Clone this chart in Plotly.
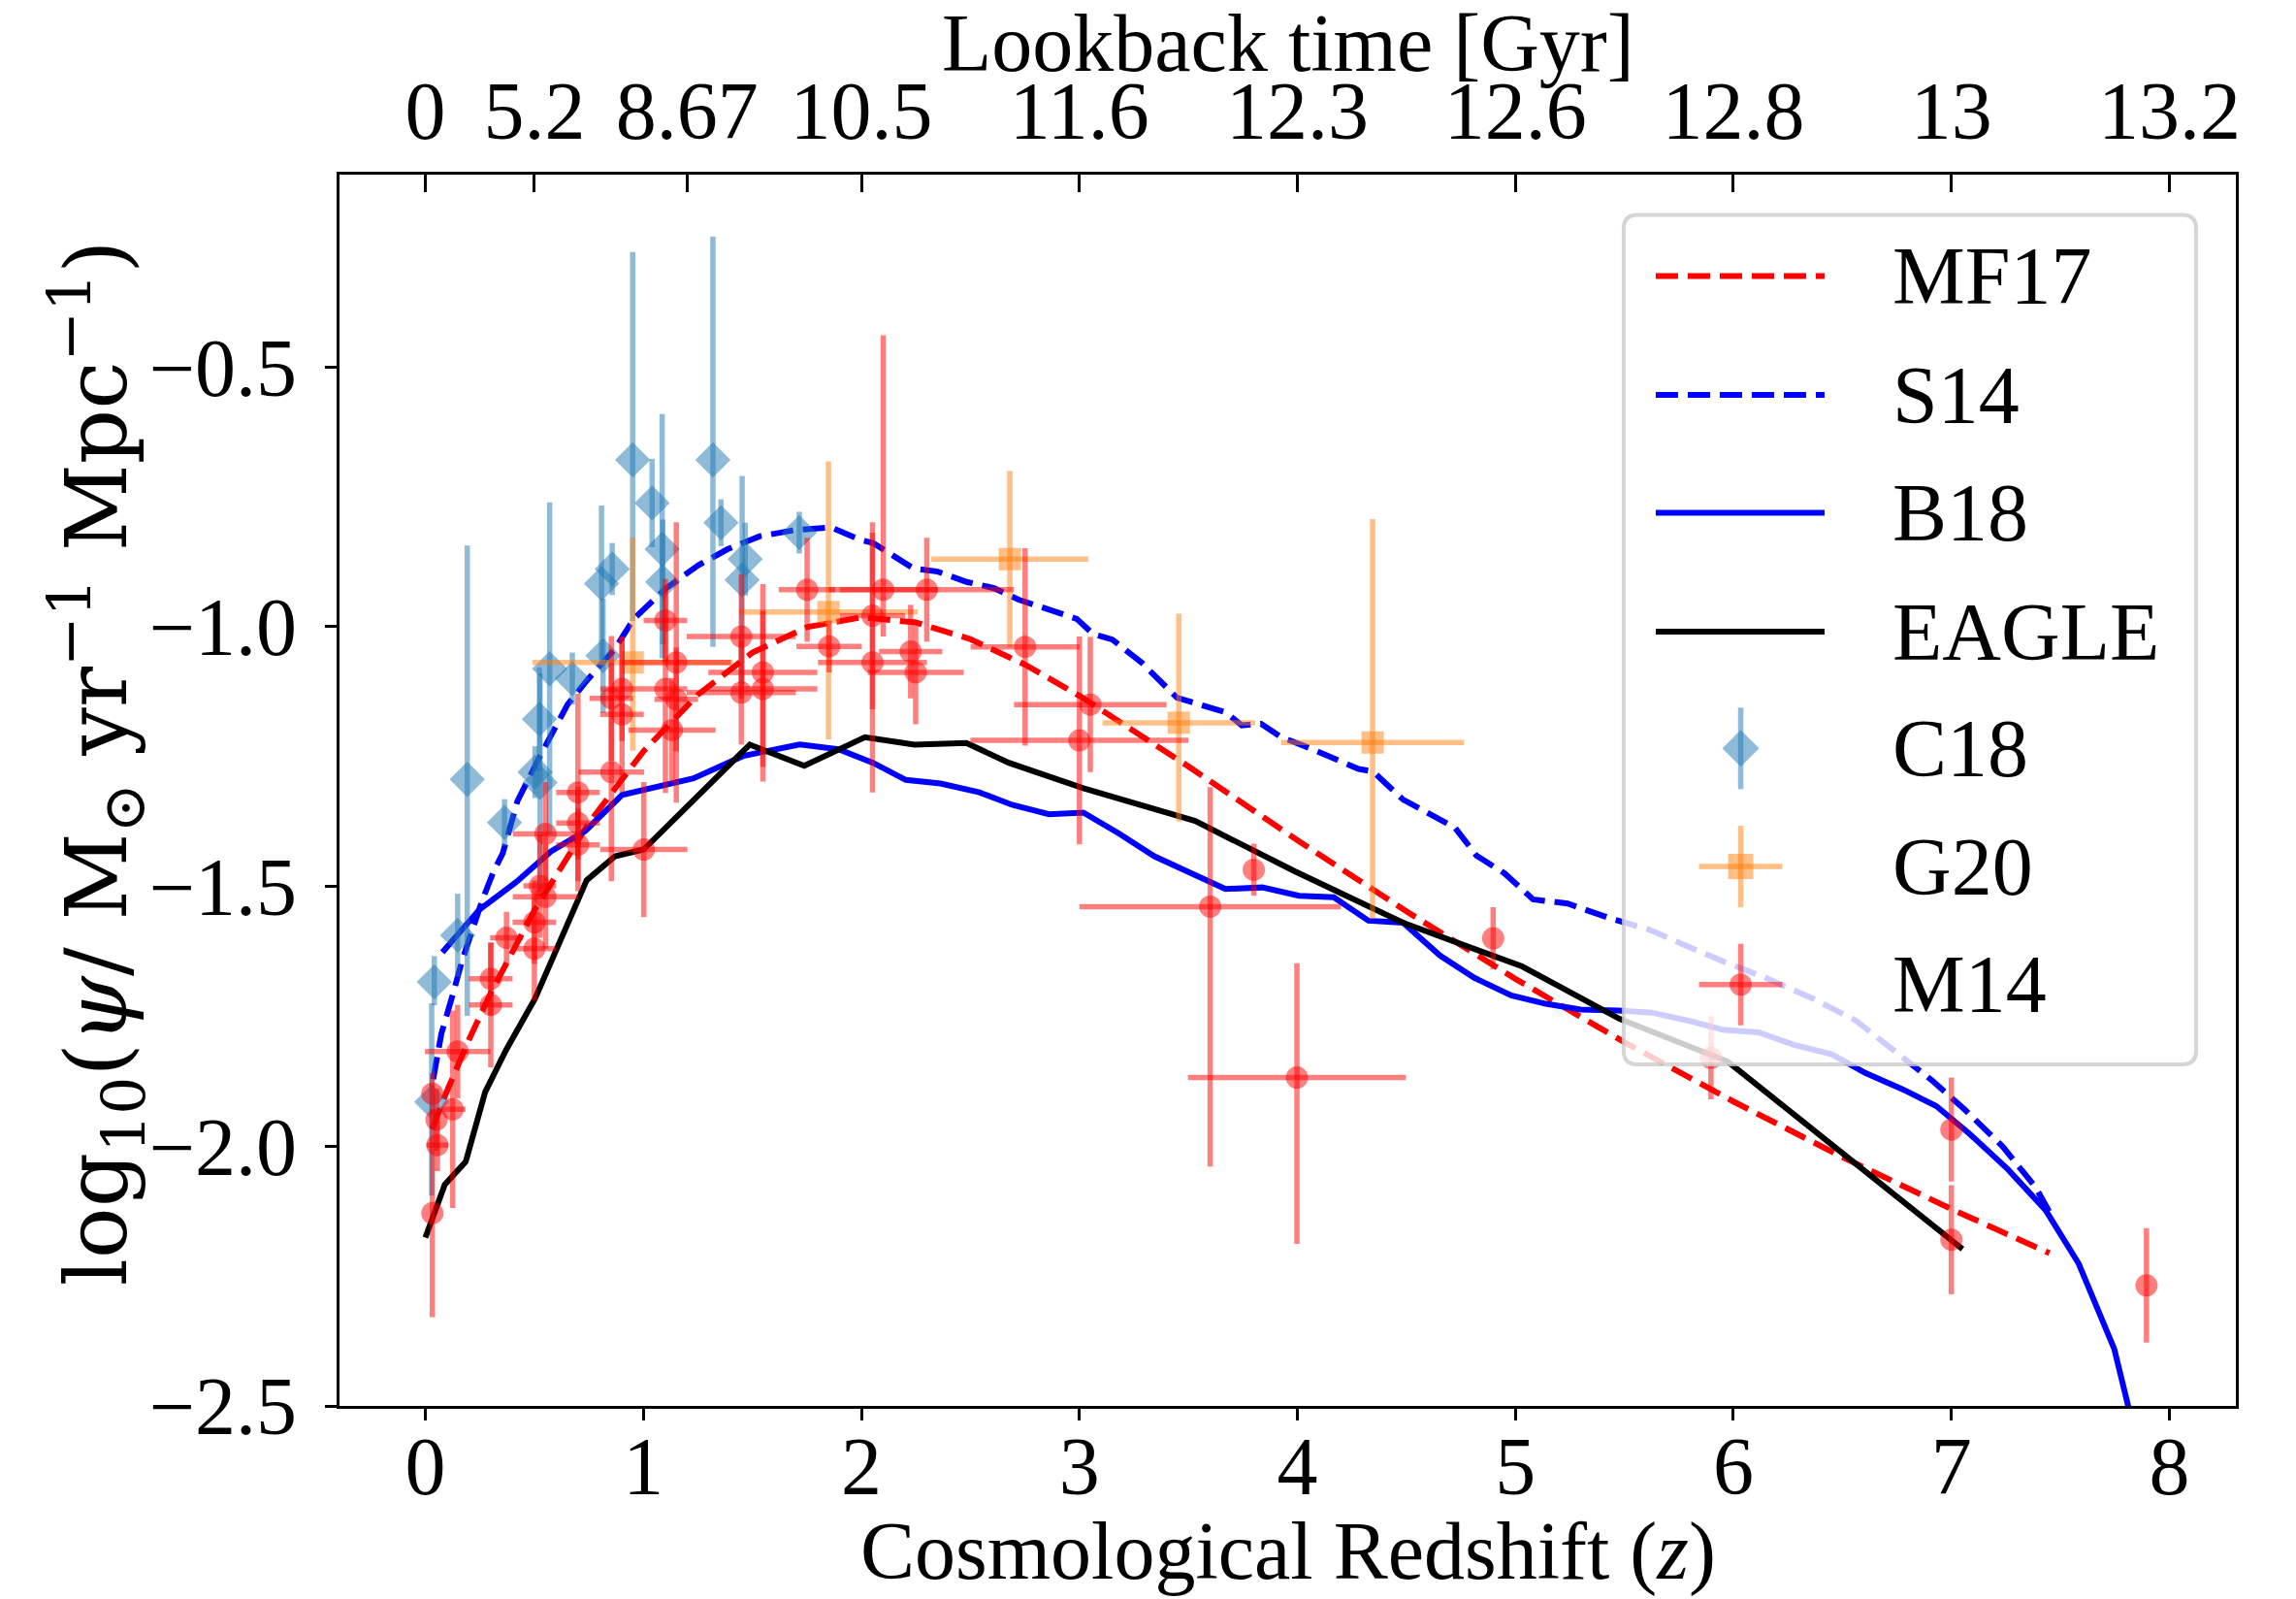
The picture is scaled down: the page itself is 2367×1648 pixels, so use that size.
import plotly.graph_objects as go

# ---------------- data ----------------
MF17_Z = [0.03, 0.1, 0.2, 0.3, 0.5, 0.75, 1.0, 1.25, 1.5, 1.75, 2.0, 2.25, 2.5, 2.75,
          3.0, 3.5, 4.0, 4.5, 5.0, 5.5, 6.0, 6.5, 7.0, 7.45]
MF17_Y = [-1.967, -1.893, -1.795, -1.705, -1.546, -1.378, -1.240, -1.131, -1.050, -1.001,
          -0.982, -0.992, -1.024, -1.073, -1.133, -1.269, -1.411, -1.548, -1.678, -1.800,
          -1.914, -2.021, -2.121, -2.206]

S14_Z = [0.036, 0.073, 0.125, 0.170, 0.259, 0.311, 0.355, 0.422, 0.526, 0.652, 0.748, 0.867,
         0.956, 1.104, 1.252, 1.386, 1.534, 1.697, 1.861, 1.994, 2.053, 2.142, 2.239, 2.350,
         2.483, 2.609, 2.721, 2.988, 3.062, 3.151, 3.285, 3.448, 3.537, 3.671, 3.745, 3.834,
         3.923, 4.057, 4.281, 4.347, 4.485, 4.723, 4.822, 4.951, 5.081, 5.240, 5.438, 5.613,
         5.755, 5.951, 6.148, 6.365, 6.561, 6.735, 6.910, 7.062, 7.236, 7.388, 7.454]
S14_Y = [-1.871, -1.784, -1.709, -1.641, -1.529, -1.473, -1.436, -1.336, -1.249, -1.150, -1.100,
         -1.044, -0.985, -0.926, -0.882, -0.851, -0.826, -0.814, -0.809, -0.833, -0.839, -0.864,
         -0.888, -0.894, -0.914, -0.926, -0.948, -0.985, -1.014, -1.025, -1.069, -1.137, -1.148,
         -1.165, -1.190, -1.187, -1.212, -1.234, -1.274, -1.279, -1.333, -1.387, -1.441, -1.475,
         -1.525, -1.533, -1.562, -1.583, -1.609, -1.644, -1.676, -1.716, -1.758, -1.816, -1.873,
         -1.930, -2.001, -2.080, -2.130]

B18_Z = [0.078, 0.247, 0.416, 0.575, 0.734, 0.902, 1.230, 1.458, 1.717, 1.895, 2.053, 2.204,
         2.363, 2.541, 2.691, 2.861, 3.018, 3.181, 3.344, 3.507, 3.670, 3.839, 4.008, 4.167,
         4.326, 4.485, 4.654, 4.812, 4.981, 5.140, 5.299, 5.473, 5.625, 5.800, 5.952, 6.115,
         6.278, 6.452, 6.605, 6.779, 6.931, 7.083, 7.258, 7.432, 7.584, 7.747, 7.813, 7.840]
B18_Y = [-1.627, -1.545, -1.492, -1.433, -1.393, -1.324, -1.292, -1.249, -1.227, -1.236, -1.262,
         -1.295, -1.302, -1.319, -1.343, -1.361, -1.358, -1.398, -1.442, -1.473, -1.505, -1.502,
         -1.518, -1.521, -1.566, -1.570, -1.633, -1.676, -1.710, -1.726, -1.737, -1.739, -1.743,
         -1.759, -1.776, -1.781, -1.805, -1.823, -1.859, -1.891, -1.923, -1.976, -2.044, -2.123,
         -2.226, -2.390, -2.498, -2.550]

EAGLE_Z = [0.0, 0.089, 0.185, 0.274, 0.370, 0.503, 0.740, 0.870, 1.001, 1.238, 1.488, 1.738,
           2.016, 2.243, 2.482, 2.676, 3.018, 3.531, 3.988, 4.485, 5.031, 5.478, 5.973, 7.051]
EAGLE_Y = [-2.176, -2.074, -2.030, -1.896, -1.815, -1.716, -1.488, -1.442, -1.429, -1.331,
           -1.227, -1.268, -1.213, -1.227, -1.224, -1.262, -1.311, -1.374, -1.471, -1.570,
           -1.654, -1.755, -1.837, -2.198]

C18_Z = [0.029, 0.041, 0.148, 0.192, 0.363, 0.503, 0.526, 0.523, 0.570, 0.674, 0.808, 0.815,
         0.857, 0.951, 1.040, 1.086, 1.089, 1.319, 1.356, 1.453, 1.467, 1.715]
C18_Y = [-1.915, -1.684, -1.594, -1.294, -1.377, -1.280, -1.300, -1.178, -1.081, -1.100, -0.917,
         -1.056, -0.889, -0.679, -0.762, -0.851, -0.914, -0.679, -0.800, -0.910, -0.870, -0.819]
C18_UP = [0.19, 0.05, 0.08, 0.45, 0.045, 0.05, 0.21, 0.10, 0.32, 0.05, 0.15, 0.11, 0.05, 0.40,
          0.085, 0.26, 0.12, 0.43, 0.045, 0.20, 0.07, 0.04]
C18_DN = [0.18, 0.045, 0.08, 0.455, 0.045, 0.05, 0.21, 0.10, 0.32, 0.05, 0.15, 0.11, 0.05, 0.31,
          0.085, 0.21, 0.12, 0.36, 0.045, 0.20, 0.07, 0.04]

G20_Z = [0.951, 1.849, 2.681, 3.456, 4.345]
G20_Y = [-1.069, -0.972, -0.870, -1.185, -1.223]
G20_XERR = [0.46, 0.41, 0.36, 0.35, 0.42]
G20_UP = [0.24, 0.29, 0.17, 0.21, 0.43]
G20_DN = [0.17, 0.245, 0.17, 0.19, 0.34]

M14_Z = [0.032, 0.032, 0.051, 0.055, 0.125, 0.148, 0.300, 0.300, 0.372, 0.500, 0.500, 0.525,
         0.551, 0.551, 0.700, 0.700, 0.700, 0.853, 0.853, 0.902, 0.902, 1.002, 1.101, 1.101,
         1.151, 1.151, 1.131, 1.449, 1.449, 1.548, 1.548, 1.751, 1.852, 2.051, 2.051, 2.100,
         2.226, 2.249, 2.300, 2.751, 3.000, 3.050, 3.600, 3.800, 3.998, 4.898, 5.897, 7.000,
         7.000, 7.895]
M14_Y = [-2.129, -1.899, -1.949, -1.998, -1.929, -1.818, -1.678, -1.728, -1.599, -1.569, -1.620,
         -1.499, -1.520, -1.399, -1.420, -1.378, -1.319, -1.280, -1.138, -1.120, -1.169, -1.429,
         -0.988, -1.120, -1.069, -1.140, -1.199, -1.019, -1.127, -1.088, -1.120, -0.929, -1.038,
         -0.979, -1.069, -0.929, -1.048, -1.088, -0.929, -1.039, -1.219, -1.150, -1.539, -1.468,
         -1.868, -1.600, -1.830, -1.968, -2.180, -2.268]
M14_XERR = [0, 0, 0, 0.05, 0.06, 0.15, 0.10, 0.10, 0.075, 0.10, 0.10, 0.075, 0.15, 0.15, 0.10,
            0.10, 0.10, 0.15, 0.10, 0.10, 0.10, 0.20, 0.10, 0.10, 0.25, 0.10, 0.20, 0.25, 0.25,
            0.25, 0.25, 0.13, 0.15, 0.15, 0.25, 0.25, 0.145, 0.22, 0.40, 0.25, 0.50, 0.35, 0.60,
            0, 0.50, 0, 0, 0, 0, 0]
M14_UP = [0.20, 0.04, 0.06, 0.05, 0.19, 0.09, 0.07, 0.12, 0.05, 0.08, 0.10, 0.10, 0.10, 0.10,
          0.07, 0.07, 0.19, 0.21, 0.12, 0.10, 0.15, 0.13, 0.08, 0.20, 0.27, 0.10, 0.10, 0.12,
          0.10, 0.17, 0.15, 0.10, 0.05, 0.18, 0.25, 0.49, 0.09, 0.10, 0.10, 0.19, 0.20, 0.13,
          0.23, 0.05, 0.22, 0.06, 0.08, 0.10, 0.105, 0.11]
M14_DN = [0.20, 0.04, 0.06, 0.05, 0.19, 0.09, 0.07, 0.12, 0.05, 0.08, 0.10, 0.10, 0.10, 0.10,
          0.07, 0.07, 0.19, 0.21, 0.12, 0.10, 0.15, 0.13, 0.08, 0.20, 0.27, 0.10, 0.10, 0.12,
          0.10, 0.21, 0.15, 0.10, 0.05, 0.18, 0.25, 0.09, 0.09, 0.10, 0.10, 0.19, 0.20, 0.13,
          0.50, 0.05, 0.32, 0.06, 0.08, 0.10, 0.105, 0.11]

X_TICKS = [0, 1, 2, 3, 4, 5, 6, 7, 8]
Y_TICKS = [-2.5, -2.0, -1.5, -1.0, -0.5]
Y_TICK_LABELS = ["\u22122.5", "\u22122.0", "\u22121.5", "\u22121.0", "\u22120.5"]
TOP_Z = [0, 0.5, 1.2, 2, 3, 4, 5, 6, 7, 8]
TOP_LABELS = ["0", "5.2", "8.67", "10.5", "11.6", "12.3", "12.6", "12.8", "13", "13.2"]

LEGEND_NAMES = ["MF17", "S14", "B18", "EAGLE", "C18", "G20", "M14"]

# ---------------- styling ----------------
FONT = "Liberation Serif, Times New Roman, serif"
MATHFONT = "DejaVu Serif, serif"
FS = 84
LW = 6
DASH = "23px,10px"
EW = 5.5
C_BLUE = "rgba(31,119,180,0.5)"
C_ORANGE = "rgba(255,127,14,0.5)"
C_RED = "rgba(255,0,0,0.5)"

fig = go.Figure()

fig.add_trace(go.Scatter(x=MF17_Z, y=MF17_Y, mode="lines", name="MF17",
                         line=dict(color="red", width=LW, dash=DASH)))
fig.add_trace(go.Scatter(x=S14_Z, y=S14_Y, mode="lines", name="S14",
                         line=dict(color="blue", width=LW, dash=DASH)))
fig.add_trace(go.Scatter(x=B18_Z, y=B18_Y, mode="lines", name="B18",
                         line=dict(color="blue", width=LW)))
fig.add_trace(go.Scatter(x=EAGLE_Z, y=EAGLE_Y, mode="lines", name="EAGLE",
                         line=dict(color="black", width=LW)))

fig.add_trace(go.Scatter(
    x=C18_Z, y=C18_Y, mode="markers", name="C18",
    marker=dict(symbol="diamond", size=28, color=C_BLUE, line=dict(width=0)),
    error_y=dict(type="data", symmetric=False, array=C18_UP, arrayminus=C18_DN,
                 color=C_BLUE, thickness=EW, width=0)))
fig.add_trace(go.Scatter(
    x=G20_Z, y=G20_Y, mode="markers", name="G20",
    marker=dict(symbol="square", size=23, color=C_ORANGE, line=dict(width=0)),
    error_x=dict(type="data", array=G20_XERR, color=C_ORANGE, thickness=EW, width=0),
    error_y=dict(type="data", symmetric=False, array=G20_UP, arrayminus=G20_DN,
                 color=C_ORANGE, thickness=EW, width=0)))
fig.add_trace(go.Scatter(
    x=M14_Z, y=M14_Y, mode="markers", name="M14",
    marker=dict(symbol="circle", size=23, color=C_RED, line=dict(width=0)),
    error_x=dict(type="data", array=M14_XERR, color=C_RED, thickness=EW, width=0),
    error_y=dict(type="data", symmetric=False, array=M14_UP, arrayminus=M14_DN,
                 color=C_RED, thickness=EW, width=0)))

# invisible trace that carries the top (lookback time) axis
fig.add_trace(go.Scatter(x=TOP_Z, y=[None] * len(TOP_Z), xaxis="x2", yaxis="y",
                         mode="markers", showlegend=False, hoverinfo="skip"))

XR = [-0.394, 8.305]
YR = [-2.5, -0.13]

fig.update_layout(
    width=2367, height=1648,
    margin=dict(l=350, r=62, t=180, b=199, pad=0),
    paper_bgcolor="white", plot_bgcolor="white",
    showlegend=False,
    font=dict(family=FONT, size=FS, color="black"),
    xaxis=dict(range=XR, tickmode="array", tickvals=X_TICKS,
               ticks="outside", ticklen=12, tickwidth=3, tickcolor="black",
               showline=True, linecolor="black", linewidth=3.3, mirror=True,
               showgrid=False, zeroline=False, ticklabelstandoff=-25,
               tickfont=dict(family=FONT, size=FS)),
    xaxis2=dict(range=XR, overlaying="x", side="top", anchor="y",
                tickmode="array", tickvals=TOP_Z, ticktext=TOP_LABELS,
                ticks="inside", ticklen=18, tickwidth=3, tickcolor="black",
                showline=False, showgrid=False, zeroline=False,
                ticklabelstandoff=19, tickfont=dict(family=FONT, size=FS)),
    yaxis=dict(range=YR, tickmode="array", tickvals=Y_TICKS, ticktext=Y_TICK_LABELS,
               ticks="outside", ticklen=12, tickwidth=3, tickcolor="black",
               showline=True, linecolor="black", linewidth=3.3, mirror=True,
               showgrid=False, zeroline=False, ticklabelstandoff=12,
               tickfont=dict(family=FONT, size=FS)),
)

# axis titles
fig.add_annotation(text="Cosmological Redshift (<i>z</i>)", xref="paper", yref="paper",
                   x=0.5, y=-0.118, xanchor="center", yanchor="middle", showarrow=False,
                   font=dict(family=FONT, size=FS))
fig.add_annotation(text="Lookback time [Gyr]", xref="paper", yref="paper",
                   x=0.5, y=1.107, xanchor="center", yanchor="middle", showarrow=False,
                   font=dict(family=FONT, size=FS))
fig.add_annotation(text="log<sub>10</sub>(<i>\u03c8</i>/ M<sub>\u2299</sub> yr<sup>\u22121</sup> Mpc<sup>\u22121</sup>)",
                   xref="paper", yref="paper", x=-0.128, y=0.522, textangle=-90,
                   xanchor="center", yanchor="middle", showarrow=False,
                   font=dict(family=MATHFONT, size=88))

# ---------------- legend (drawn manually, matplotlib style) ----------------
LX0, LX1, LY0, LY1 = 0.6772, 0.9790, 0.2774, 0.9673
rx, ry = 14 / 1955, 14 / 1269
box_path = (f"M {LX0+rx},{LY0} L {LX1-rx},{LY0} Q {LX1},{LY0} {LX1},{LY0+ry} "
            f"L {LX1},{LY1-ry} Q {LX1},{LY1} {LX1-rx},{LY1} L {LX0+rx},{LY1} "
            f"Q {LX0},{LY1} {LX0},{LY1-ry} L {LX0},{LY0+ry} Q {LX0},{LY0} {LX0+rx},{LY0} Z")
shapes = [dict(type="path", path=box_path, xref="paper", yref="paper", layer="above",
               fillcolor="rgba(255,255,255,0.8)", line=dict(color="rgba(204,204,204,0.8)", width=4))]

ENTRY_Y = [0.9176, 0.8211, 0.7253, 0.6288, 0.5340, 0.4381, 0.3422]
SX0, SX1, SXC = 0.6941, 0.7831, 0.7389
line_styles = [("red", DASH), ("blue", DASH), ("blue", "solid"), ("black", "solid")]
for (col, dash), yy in zip(line_styles, ENTRY_Y[:4]):
    shapes.append(dict(type="line", xref="paper", yref="paper", layer="above",
                       x0=SX0, x1=SX1, y0=yy, y1=yy, line=dict(color=col, width=LW, dash=dash)))


def pix(kind, yy, **kw):
    d = dict(type=kind, xref="paper", yref="paper", layer="above",
             xsizemode="pixel", ysizemode="pixel", xanchor=SXC, yanchor=yy)
    d.update(kw)
    return d


# C18: vertical error + diamond
shapes.append(pix("line", ENTRY_Y[4], x0=0, x1=0, y0=-42, y1=42, line=dict(color=C_BLUE, width=EW)))
shapes.append(pix("path", ENTRY_Y[4], path="M 0,19 L 19,0 L 0,-19 L -19,0 Z",
                  fillcolor=C_BLUE, line=dict(width=0)))
# G20: cross + square
shapes.append(pix("line", ENTRY_Y[5], x0=0, x1=0, y0=-42, y1=42, line=dict(color=C_ORANGE, width=EW)))
shapes.append(pix("line", ENTRY_Y[5], x0=-43, x1=43, y0=0, y1=0, line=dict(color=C_ORANGE, width=EW)))
shapes.append(pix("rect", ENTRY_Y[5], x0=-13, x1=13, y0=-13, y1=13,
                  fillcolor=C_ORANGE, line=dict(width=0)))
# M14: cross + circle
shapes.append(pix("line", ENTRY_Y[6], x0=0, x1=0, y0=-42, y1=42, line=dict(color=C_RED, width=EW)))
shapes.append(pix("line", ENTRY_Y[6], x0=-43, x1=43, y0=0, y1=0, line=dict(color=C_RED, width=EW)))
shapes.append(pix("circle", ENTRY_Y[6], x0=-11.5, x1=11.5, y0=-11.5, y1=11.5,
                  fillcolor=C_RED, line=dict(width=0)))

fig.update_layout(shapes=shapes)

for name, yy in zip(LEGEND_NAMES, ENTRY_Y):
    fig.add_annotation(text=name, xref="paper", yref="paper", x=0.8177, y=yy,
                       xanchor="left", yanchor="middle", showarrow=False,
                       font=dict(family=FONT, size=FS))

fig.write_html("out.html")
